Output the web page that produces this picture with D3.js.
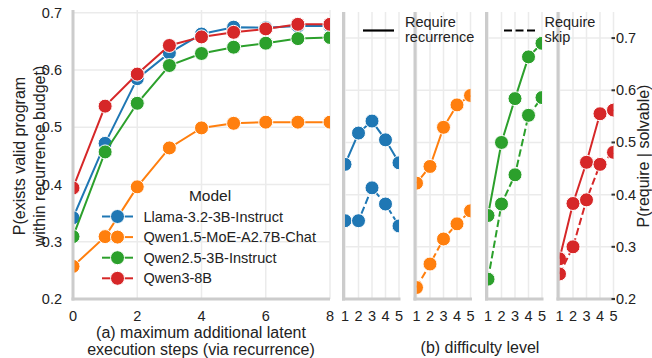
<!DOCTYPE html>
<html>
<head>
<meta charset="utf-8">
<script src="https://cdn.jsdelivr.net/npm/d3@7"></script>
<style>
  html, body { margin: 0; padding: 0; background: #fff; }
  text { font-family: "Liberation Sans", Arial, sans-serif; fill: #222; }
</style>
</head>
<body>
<svg id="chart" width="652" height="358"></svg>
<script>
// ---- data ----
const models = ["Llama-3.2-3B-Instruct", "Qwen1.5-MoE-A2.7B-Chat", "Qwen2.5-3B-Instruct", "Qwen3-8B"];
const colors = ["#1f77b4", "#ff7f0e", "#2ca02c", "#d62728"];

// (a) P(exists valid program within recurrence budget) vs extra steps
const steps = [0, 1, 2, 3, 4, 5, 6, 7, 8];
const llamaBudget = [0.342, 0.472, 0.585, 0.630, 0.663, 0.675, 0.674, 0.677, 0.677];
const qwen15Budget = [0.257, 0.309, 0.396, 0.464, 0.499, 0.507, 0.509, 0.509, 0.509];
const qwen25Budget = [0.309, 0.457, 0.542, 0.608, 0.629, 0.640, 0.647, 0.655, 0.657];
const qwen3Budget = [0.394, 0.537, 0.593, 0.643, 0.658, 0.666, 0.672, 0.680, 0.680];
const budgetSeries = [llamaBudget, qwen15Budget, qwen25Budget, qwen3Budget];

// (b) P(require | solvable) vs difficulty level
const levels = [1, 2, 3, 4, 5];
const llamaRecur = [0.458, 0.518, 0.541, 0.505, 0.461];
const llamaSkip = [0.350, 0.350, 0.413, 0.382, 0.340];
const qwen15Recur = [0.422, 0.454, 0.529, 0.572, 0.590];
const qwen15Skip = [0.222, 0.267, 0.315, 0.344, 0.369];
const qwen25Recur = [0.360, 0.500, 0.584, 0.664, 0.690];
const qwen25Skip = [0.238, 0.382, 0.438, 0.552, 0.586];
const qwen3Recur = [0.277, 0.383, 0.462, 0.555, 0.562];
const qwen3Skip = [0.248, 0.300, 0.390, 0.458, 0.481];
const recurSeries = [llamaRecur, qwen15Recur, qwen25Recur, qwen3Recur];
const skipSeries = [llamaSkip, qwen15Skip, qwen25Skip, qwen3Skip];

const leftTicksX = [0, 2, 4, 6, 8];
const leftTicksY = [0.2, 0.3, 0.4, 0.5, 0.6, 0.7];
const rightTicksY = [0.2, 0.3, 0.4, 0.5, 0.6, 0.7];

// ---- styles ----
const gridColor = "#ebebeb";
const spineColor = "#cccccc";
const tickFont = 14.5;
const labelFont = 16;
const markerR = 7;

const svg = d3.select("#chart");
const defs = svg.append("defs");

function clip(id, x0, y0, w, h) {
  defs.append("clipPath").attr("id", id)
    .append("rect").attr("x", x0).attr("y", y0).attr("width", w).attr("height", h);
  return `url(#${id})`;
}

function drawSeries(g, x, y, xs, vals, color, dashed) {
  const pts = xs.map((d, i) => [d, vals[i]]);
  g.append("path")
    .attr("d", d3.line().x(d => x(d[0])).y(d => y(d[1]))(pts))
    .attr("fill", "none").attr("stroke", color).attr("stroke-width", 2)
    .attr("stroke-dasharray", dashed ? "7.4,3.2" : null);
  g.selectAll(null).data(pts).enter().append("circle")
    .attr("cx", d => x(d[0])).attr("cy", d => y(d[1])).attr("r", markerR)
    .attr("fill", color).attr("stroke", "#fff").attr("stroke-width", 1);
}

// ---- panel (a) ----
const xa = d3.scaleLinear().domain([0, 8]).range([73, 330]);
const ya = d3.scaleLinear().domain([0.2, 0.705]).range([299, 10]);

const ga = svg.append("g");
ga.selectAll(".gx").data(leftTicksX).enter().append("line")
  .attr("x1", d => xa(d)).attr("x2", d => xa(d)).attr("y1", ya.range()[1]).attr("y2", ya.range()[0])
  .attr("stroke", gridColor).attr("stroke-width", 1.5);
ga.selectAll(".gy").data(leftTicksY).enter().append("line")
  .attr("x1", xa.range()[0]).attr("x2", xa.range()[1]).attr("y1", d => ya(d)).attr("y2", d => ya(d))
  .attr("stroke", gridColor).attr("stroke-width", 1.5);

const gaData = ga.append("g").attr("clip-path", clip("clipA", 73, 10, 257, 289));
budgetSeries.forEach((vals, i) => drawSeries(gaData, xa, ya, steps, vals, colors[i], false));

ga.append("line").attr("x1", 73).attr("x2", 73).attr("y1", 10).attr("y2", 300.5)
  .attr("stroke", spineColor).attr("stroke-width", 3);
ga.append("line").attr("x1", 71.5).attr("x2", 330).attr("y1", 299).attr("y2", 299)
  .attr("stroke", spineColor).attr("stroke-width", 3);

ga.selectAll(".tx").data(leftTicksX).enter().append("text")
  .attr("x", d => xa(d)).attr("y", 315.5).attr("text-anchor", "middle")
  .attr("dominant-baseline", "central").attr("font-size", tickFont).text(d => d);
ga.selectAll(".ty").data(leftTicksY).enter().append("text")
  .attr("x", 62).attr("y", d => ya(d)).attr("text-anchor", "end")
  .attr("dominant-baseline", "central").attr("font-size", tickFont).text(d => d.toFixed(1));

ga.append("text").attr("x", 201).attr("y", 332.5).attr("text-anchor", "middle")
  .attr("dominant-baseline", "central").attr("font-size", labelFont)
  .text("(a) maximum additional latent");
ga.append("text").attr("x", 201).attr("y", 349.5).attr("text-anchor", "middle")
  .attr("dominant-baseline", "central").attr("font-size", labelFont)
  .text("execution steps (via recurrence)");

[["P(exists valid program", 19], ["within recurrence budget)", 39.5]].forEach(([t, cx]) => {
  ga.append("text").attr("transform", `translate(${cx},156) rotate(-90)`)
    .attr("text-anchor", "middle").attr("dominant-baseline", "central")
    .attr("font-size", labelFont).text(t);
});

// legend (a)
const lg = ga.append("g");
lg.append("text").attr("x", 210).attr("y", 195.5).attr("text-anchor", "middle")
  .attr("dominant-baseline", "central").attr("font-size", 15.5).text("Model");
models.forEach((m, i) => {
  const yy = 216.5 + i * 20.6;
  lg.append("line").attr("x1", 102).attr("x2", 133).attr("y1", yy).attr("y2", yy)
    .attr("stroke", colors[i]).attr("stroke-width", 2);
  lg.append("circle").attr("cx", 117.5).attr("cy", yy).attr("r", markerR)
    .attr("fill", colors[i]).attr("stroke", "#fff").attr("stroke-width", 1);
  lg.append("text").attr("x", 143.5).attr("y", yy).attr("dominant-baseline", "central")
    .attr("font-size", tickFont).text(m);
});

// ---- panels (b) ----
const yb = d3.scaleLinear().domain([0.2, 0.75]).range([299, 12]);
const panelLeft = [345, 416.5, 488, 559.5];
const panelW = 54;

panelLeft.forEach((left, i) => {
  const xb = d3.scaleLinear().domain([1, 5]).range([left, left + panelW]);
  const g = svg.append("g");
  g.selectAll(".gx").data(levels).enter().append("line")
    .attr("x1", d => xb(d)).attr("x2", d => xb(d)).attr("y1", 12).attr("y2", 299)
    .attr("stroke", gridColor).attr("stroke-width", 1.5);
  g.selectAll(".gy").data(rightTicksY).enter().append("line")
    .attr("x1", left).attr("x2", left + panelW).attr("y1", d => yb(d)).attr("y2", d => yb(d))
    .attr("stroke", gridColor).attr("stroke-width", 1.5);

  const gd = g.append("g").attr("clip-path", clip("clipB" + i, left, 12, panelW, 287));
  drawSeries(gd, xb, yb, levels, recurSeries[i], colors[i], false);
  drawSeries(gd, xb, yb, levels, skipSeries[i], colors[i], true);

  g.append("line").attr("x1", left - 1.5).attr("x2", left - 1.5).attr("y1", 12).attr("y2", 300.5)
    .attr("stroke", spineColor).attr("stroke-width", 3);
  g.append("line").attr("x1", left - 3).attr("x2", left + panelW + 1.5).attr("y1", 299).attr("y2", 299)
    .attr("stroke", spineColor).attr("stroke-width", 3);

  g.selectAll(".tx").data(levels).enter().append("text")
    .attr("x", d => xb(d)).attr("y", 315.5).attr("text-anchor", "middle")
    .attr("dominant-baseline", "central").attr("font-size", tickFont).text(d => d);
});

// right axis (shared)
const rightX = panelLeft[3] + panelW;
const ra = svg.append("g");
ra.selectAll(".tk").data(rightTicksY).enter().append("line")
  .attr("x1", rightX - 2).attr("x2", rightX + 1.5).attr("y1", d => yb(d)).attr("y2", d => yb(d))
  .attr("stroke", "#333").attr("stroke-width", 2);
ra.selectAll(".tl").data(rightTicksY).enter().append("text")
  .attr("x", rightX + 2.5).attr("y", d => yb(d)).attr("dominant-baseline", "central")
  .attr("font-size", tickFont).text(d => d.toFixed(1));
ra.append("text").attr("transform", "translate(643,156) rotate(-90)")
  .attr("text-anchor", "middle").attr("dominant-baseline", "central")
  .attr("font-size", labelFont).text("P(require | solvable)");

svg.append("text").attr("x", 480).attr("y", 347).attr("text-anchor", "middle")
  .attr("dominant-baseline", "central").attr("font-size", labelFont).text("(b) difficulty level");

// legend (b)
[[363, 405, "recurrence", false], [504, 544.5, "skip", true]].forEach(([lx, tx, word, dashed]) => {
  svg.append("line").attr("x1", lx).attr("x2", lx + 31).attr("y1", 30.5).attr("y2", 30.5)
    .attr("stroke", "#000").attr("stroke-width", 2.2)
    .attr("stroke-dasharray", dashed ? "8,3.5" : null);
  svg.append("text").attr("x", tx).attr("y", 21.5).attr("dominant-baseline", "central")
    .attr("font-size", tickFont).text("Require");
  svg.append("text").attr("x", tx).attr("y", 36.5).attr("dominant-baseline", "central")
    .attr("font-size", tickFont).text(word);
});
</script>
</body>
</html>
